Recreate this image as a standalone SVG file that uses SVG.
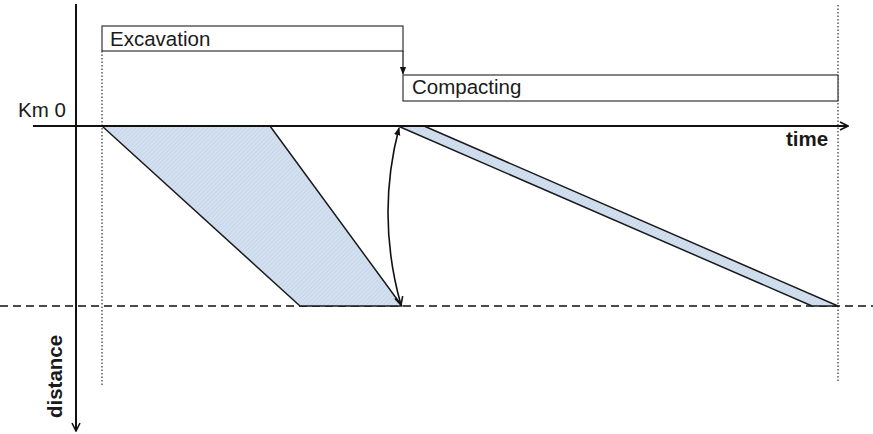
<svg xmlns="http://www.w3.org/2000/svg" width="873" height="434" viewBox="0 0 873 434">
<style>
.lbl{font-family:"Liberation Sans",Arial,sans-serif;font-size:20.5px;fill:#1a1a1a}
.bold{font-weight:bold}
.box{fill:#fff;stroke:#333;stroke-width:1.2}
.band{fill:url(#hatch);stroke:#1a1a1a;stroke-width:1.5;stroke-linejoin:round}
.axis{stroke:#111;stroke-width:2;fill:none}
.dot{stroke:#333;stroke-width:1.2;stroke-dasharray:1.5,2;fill:none}
.dash{stroke:#111;stroke-width:1.3;stroke-dasharray:8,5;fill:none}
</style>
<defs>
<pattern id="hatch" width="3" height="3" patternUnits="userSpaceOnUse" patternTransform="rotate(45)">
<rect width="3" height="3" fill="#d3e0ef"/>
<line x1="0" y1="0" x2="0" y2="3" stroke="#b9cce3" stroke-width="1"/>
</pattern>
<marker id="open" viewBox="0 0 10 10" refX="9" refY="5" markerWidth="10" markerHeight="10" markerUnits="userSpaceOnUse" orient="auto-start-reverse">
<path d="M1,1 L9,5 L1,9" fill="none" stroke="#111" stroke-width="1.6"/>
</marker>
<marker id="fill" viewBox="0 0 10 10" refX="9" refY="5" markerWidth="8" markerHeight="8" markerUnits="userSpaceOnUse" orient="auto">
<path d="M0,1 L10,5 L0,9 Z" fill="#111"/>
</marker>
</defs>
<g id="guides">
<line class="dash" x1="0" y1="306" x2="873" y2="306"/>
<line class="dot" x1="102" y1="51" x2="102" y2="387"/>
<line class="dot" x1="838" y1="5" x2="838" y2="383"/>
</g>
<g id="excavation-band">
<polygon class="band" points="102,126 270,126 402,306 300,306"/>
</g>
<g id="compacting-band">
<polygon class="band" points="398,126 424,126 838,306 812,306"/>
</g>
<g id="axes">
<line class="axis" x1="76" y1="4" x2="76" y2="431" marker-end="url(#open)"/>
<line class="axis" x1="33" y1="126" x2="848" y2="126" marker-end="url(#open)"/>
<text class="lbl" x="18" y="117">Km 0</text>
<text class="lbl bold" x="786" y="146">time</text>
<text class="lbl bold" transform="translate(62,418) rotate(-90)">distance</text>
</g>
<g id="excavation">
<rect class="box" x="102" y="26" width="301" height="25"/>
<text class="lbl" x="110" y="46">Excavation</text>
</g>
<g id="compacting">
<rect class="box" x="403" y="75" width="435" height="26"/>
<text class="lbl" x="412" y="94">Compacting</text>
</g>
<g id="connectors">
<line x1="403" y1="51" x2="403" y2="74" stroke="#111" stroke-width="1.2" marker-end="url(#fill)"/>
<path d="M401,305 Q376,216 399,128" fill="none" stroke="#111" stroke-width="1.6" marker-start="url(#open)" marker-end="url(#fill)"/>
</g>
</svg>
